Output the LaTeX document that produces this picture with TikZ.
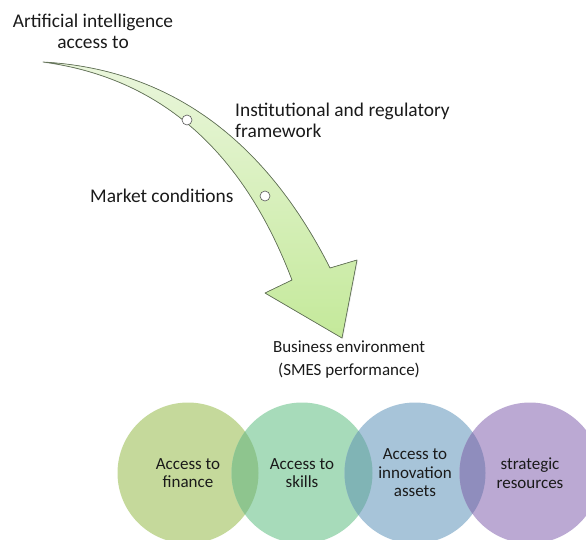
\documentclass[tikz,border=0pt]{standalone}
\usepackage{fontspec}
\setmainfont{Carlito}
\usetikzlibrary{shadows}

\definecolor{arrowtop}{HTML}{EAF6DC}
\definecolor{arrowbot}{HTML}{C4E99A}
\definecolor{arrowline}{HTML}{65755A}
\definecolor{finc}{HTML}{C5D99B}
\definecolor{skic}{HTML}{A7DBBA}
\definecolor{invc}{HTML}{A7C4D9}
\definecolor{strc}{HTML}{BBA9D3}
\definecolor{finski}{HTML}{8EC58E}
\definecolor{skiinv}{HTML}{80B4B5}
\definecolor{invstr}{HTML}{8F8DBD}
\definecolor{txt}{HTML}{1A1A1A}

\begin{document}
\begin{tikzpicture}[x=1pt,y=-1pt,
    toplabel/.style={inner sep=0pt,text=txt,font=\fontsize{19.4}{21}\selectfont},
    lowlabel/.style={inner sep=0pt,text=txt,align=center,font=\fontsize{17}{23}\selectfont},
    bubble/.style={circle,minimum size=141pt,inner sep=0pt,text=txt,align=center,font=\fontsize{17}{18.5}\selectfont},
    stopdot/.style={circle,minimum size=10pt,inner sep=0pt,fill=white,draw=gray!70!black,line width=0.6pt},
    bendarrow/.style={draw=arrowline,line width=0.7pt,line join=round,top color=arrowtop,bottom color=arrowbot,drop shadow={opacity=0.15,shadow xshift=1pt,shadow yshift=-1pt}}]
      \clip (0,0) rectangle (586,539);
      \node[toplabel,align=center] (ai) at (93,31) {Artificial intelligence\\access to};
      \coordinate (tail) at (43,62);
      \coordinate (outer) at (330,268);
      \coordinate (wingr) at (357,260);
      \coordinate (tip) at (342,338);
      \coordinate (wingl) at (265,293);
      \coordinate (inner) at (292,280);
      \filldraw[bendarrow] (tail) .. controls (150,68) and (255,120) .. (outer)
        -- (wingr) -- (tip) -- (wingl) -- (inner)
        .. controls (235,130) and (140,75) .. (tail) -- cycle;
      \node[stopdot] (dot1) at (187,120) {};
      \node[stopdot] (dot2) at (265,196) {};
      \node[toplabel,align=left,anchor=west] (inst) at (235,120) {Institutional and regulatory\\framework};
      \node[toplabel,anchor=base west] (mkt) at (90,202) {Market conditions};
      \node[lowlabel] (biz) at (349,360) {Business environment\\(SMES performance)};
      \node[bubble,fill=finc] (fin) at (188,473) {Access to\\finance};
      \node[bubble,fill=skic] (ski) at (302,473) {Access to\\skills};
      \node[bubble,fill=invc] (inv) at (415,473) {Access to\\innovation\\assets};
      \node[bubble,fill=strc] (str) at (530,473) {strategic\\resources};
      \begin{scope}
        \clip (fin.center) circle [radius=70.5pt];
        \fill[finski] (ski.center) circle [radius=70.5pt];
      \end{scope}
      \begin{scope}
        \clip (ski.center) circle [radius=70.5pt];
        \fill[skiinv] (inv.center) circle [radius=70.5pt];
      \end{scope}
      \begin{scope}
        \clip (inv.center) circle [radius=70.5pt];
        \fill[invstr] (str.center) circle [radius=70.5pt];
      \end{scope}
\end{tikzpicture}
\end{document}
